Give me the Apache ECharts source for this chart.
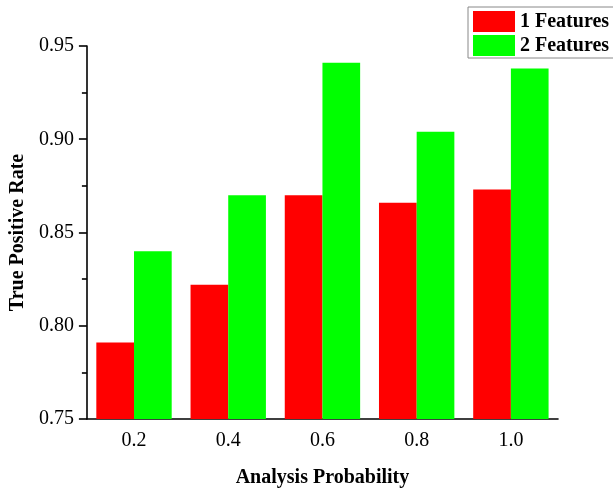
<!DOCTYPE html>
<html><head><meta charset="utf-8">
<script src="https://cdn.jsdelivr.net/npm/echarts@6/dist/echarts.min.js"></script>
<style>html,body{margin:0;padding:0;background:#fff}#c{width:613px;height:493px}</style>
</head><body><div id="c"></div>
<script>
const categories = ['0.2', '0.4', '0.6', '0.8', '1.0'];
const features1 = [0.791, 0.822, 0.870, 0.866, 0.873];
const features2 = [0.840, 0.870, 0.941, 0.904, 0.938];
const seriesNames = ['1 Features', '2 Features'];
const yTicks = { min: 0.75, max: 0.95, interval: 0.05 };

const font = '"Liberation Serif","Times New Roman",serif';
const chart = echarts.init(document.getElementById('c'));
chart.setOption({
  animation: false,
  backgroundColor: '#fff',
  grid: { left: 85, right: 55, top: 46, bottom: 67 },
  legend: {
    orient: 'vertical', left: 468, top: 7,
    itemWidth: 42, itemHeight: 21, itemGap: 3, padding: [4, 12, 2, 5],
    borderColor: '#888', borderWidth: 1,
    textStyle: { fontFamily: font, fontWeight: 'bold', fontSize: 20, color: '#000' },
    data: seriesNames.map(n => ({ name: n, icon: 'rect' }))
  },
  xAxis: [{
    type: 'category', data: categories,
    name: 'Analysis Probability', nameLocation: 'middle', nameGap: 49,
    nameTextStyle: { fontFamily: font, fontWeight: 'bold', fontSize: 20, color: '#000' },
    axisLine: { lineStyle: { color: '#000', width: 1.6 } },
    axisTick: { alignWithLabel: true, length: 8, lineStyle: { color: '#000', width: 1.6 } },
    axisLabel: { fontFamily: font, fontSize: 20, color: '#000', margin: 12 },
    splitLine: { show: false }
  }, {
    type: 'category', data: categories, position: 'bottom', gridIndex: 0,
    axisLine: { show: false },
    axisTick: { alignWithLabel: false, length: 4, lineStyle: { color: '#000', width: 1.6 } },
    axisLabel: { show: false }
  }],
  yAxis: {
    type: 'value', min: yTicks.min, max: yTicks.max, interval: yTicks.interval,
    name: 'True Positive Rate', nameLocation: 'middle', nameGap: 56,
    nameTextStyle: { fontFamily: font, fontWeight: 'bold', fontSize: 20, color: '#000' },
    axisLine: { show: true, lineStyle: { color: '#000', width: 1.6 } },
    axisTick: { show: true, length: 8, lineStyle: { color: '#000', width: 1.6 } },
    minorTick: { show: true, splitNumber: 2, length: 5, lineStyle: { color: '#000', width: 1.6 } },
    axisLabel: { fontFamily: font, fontSize: 20, color: '#000', margin: 13, formatter: v => v.toFixed(2) },
    splitLine: { show: false }
  },
  series: [
    { name: seriesNames[0], type: 'bar', data: features1, itemStyle: { color: '#ff0000' }, barGap: '0%', barCategoryGap: '20%' },
    { name: seriesNames[1], type: 'bar', data: features2, itemStyle: { color: '#00ff00' }, barGap: '0%', barCategoryGap: '20%' }
  ]
});
</script></body></html>
